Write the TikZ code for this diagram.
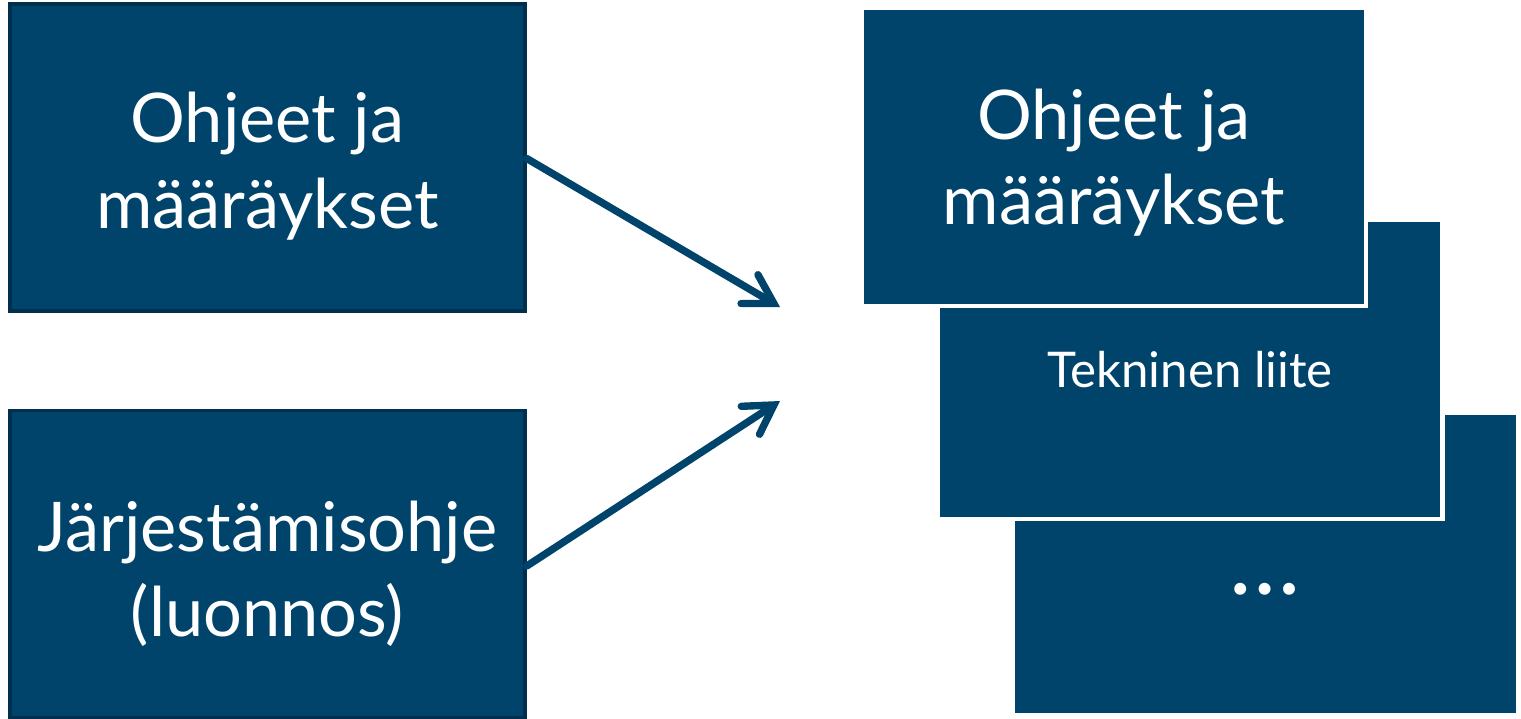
\documentclass[tikz,border=0pt]{standalone}
\usepackage{fontspec}
\setmainfont{Lato}
\usepackage{xcolor}
\usepackage{tikz}
\usetikzlibrary{arrows.meta,positioning}
\definecolor{navyfill}{HTML}{00446B}
\definecolor{navyline}{HTML}{00304E}
\newcommand{\boxtext}[2][-0.11cm]{\raisebox{#1}[\height][\depth]{\begin{tabular}{@{}c@{}}#2\end{tabular}}}

\begin{document}
\begin{tikzpicture}[
    srcbox/.style={rectangle, draw=navyline, line width=1pt, fill=navyfill, minimum width=5.15cm, minimum height=3.07cm, inner sep=0pt, text=white, font=\fontsize{19.5}{24.3}\selectfont},
    docbox/.style={rectangle, draw=white, line width=1.2pt, fill=navyfill, minimum width=5.05cm, minimum height=2.99cm, inner sep=0pt, text=white, font=#1},
    arrow/.style={-{Straight Barb[length=8pt, width=9.5pt, line cap=round]}, line width=2.1pt, line cap=round, navyfill}
]
\useasboundingbox (0,0) rectangle (15.21,-7.18);

% Sources
\node[srcbox] (ohjeet) at (2.675,-1.575) {\boxtext{Ohjeet ja\\määräykset}};
\node[srcbox] (jarj) at (2.675,-5.64) {\boxtext[-0.13cm]{Järjestämisohje\\(luonnos)}};

% Stacked result documents
\node[docbox=\fontsize{27}{30}\selectfont, minimum height=3.02cm] (muu) at (12.655,-5.64) {\raisebox{-0.3cm}[0pt][0pt]{\dots}};
\node[docbox=\fontsize{14}{17}\selectfont] (liite) at (11.90,-3.695) {\boxtext[-0.06cm]{Tekninen liite}};
\node[docbox=\fontsize{19.5}{24.3}\selectfont, minimum width=5.04cm, minimum height=2.98cm] (uusi) at (11.14,-1.57) {\boxtext[-0.08cm]{Ohjeet ja\\määräykset}};

% Arrows
\coordinate (tipa) at (7.80,-3.07);
\coordinate (tipb) at (7.80,-4.01);
\draw[arrow] (ohjeet.east) ++(0,-0.01) -- (tipa);
\draw[arrow] (jarj.east) ++(0,-0.02) -- (tipb);

\end{tikzpicture}
\end{document}
